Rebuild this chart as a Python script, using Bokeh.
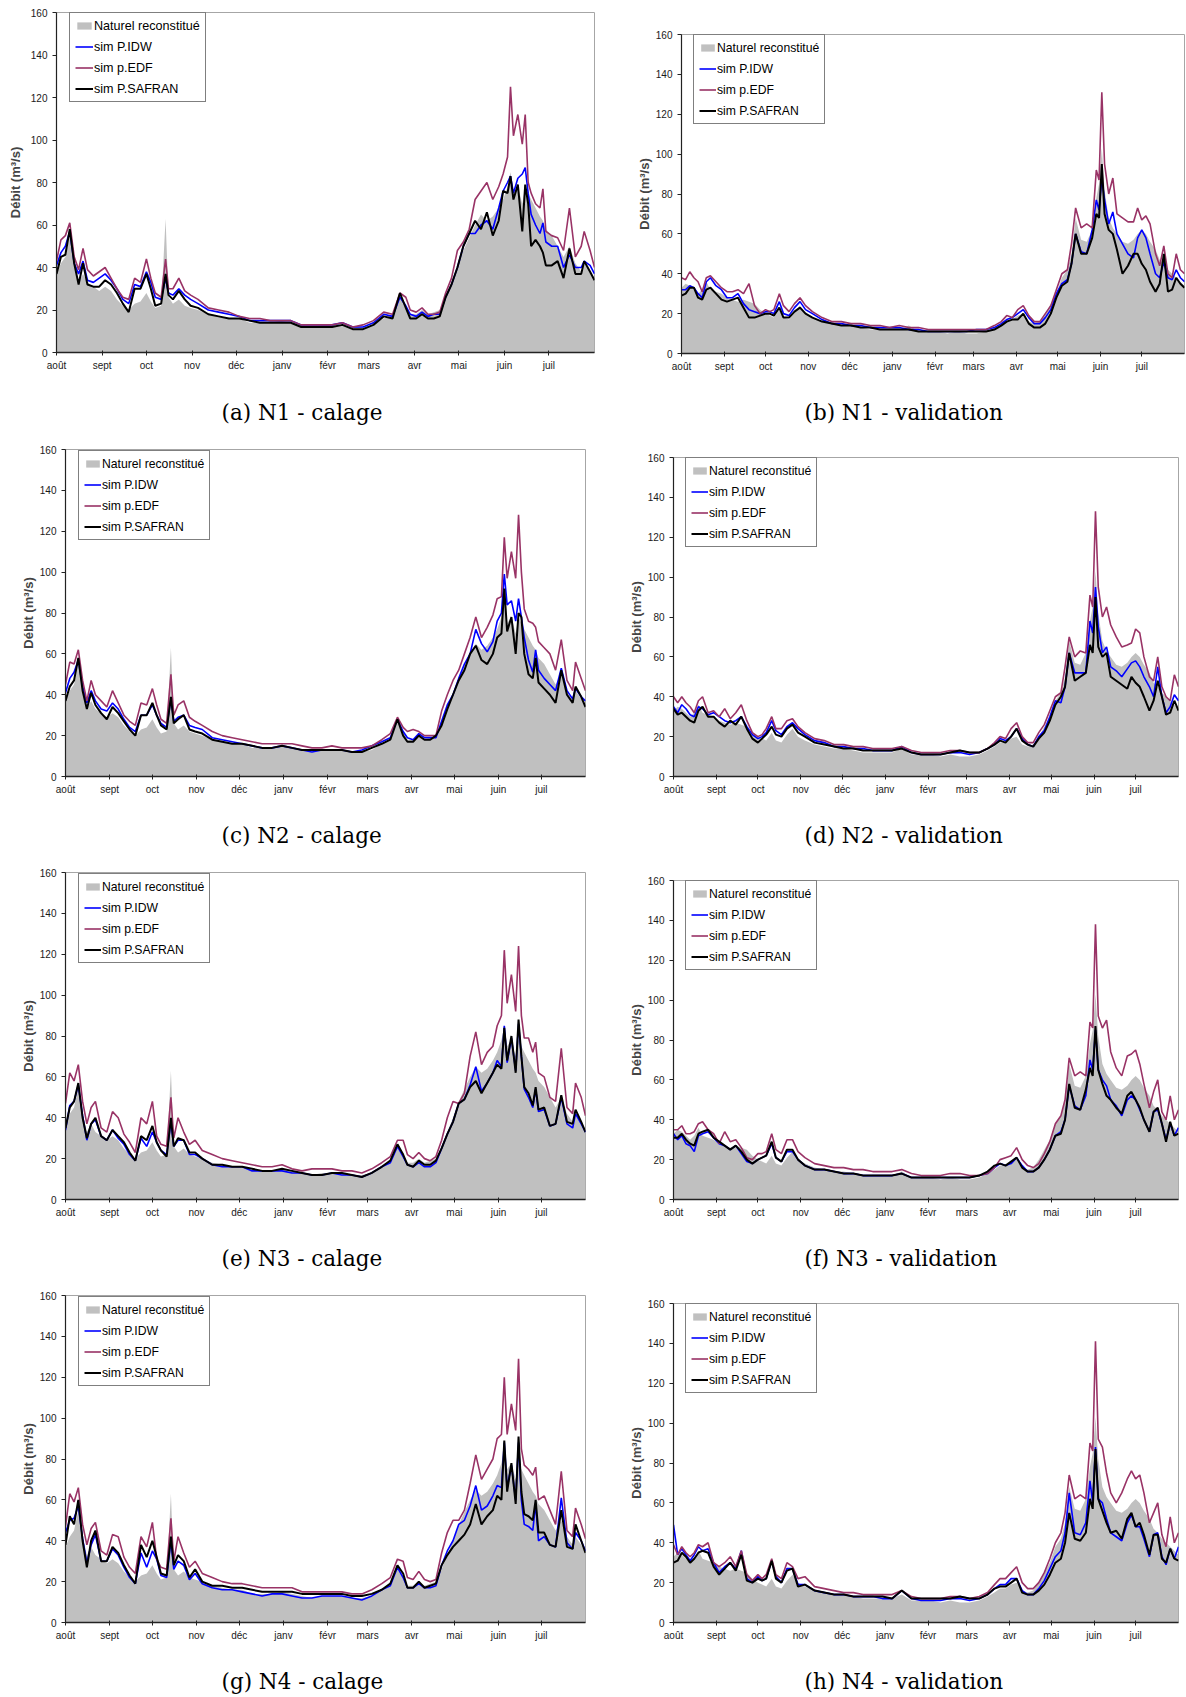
from bokeh.plotting import figure
from bokeh.models import Range1d, FixedTicker, Label, Spacer
from bokeh.layouts import row, column
from bokeh.embed import file_html
from bokeh.resources import INLINE

MONTH_TICKS = [0, 31, 61, 92, 122, 153, 184, 212, 243, 273, 304, 334]
MONTH_LABELS = ["août", "sept", "oct", "nov", "déc", "janv", "févr", "mars", "avr", "mai", "juin", "juil"]
Y_TICKS = [0, 20, 40, 60, 80, 100, 120, 140, 160]
SERIES_NAMES = ["Naturel reconstitué", "sim P.IDW", "sim p.EDF", "sim P.SAFRAN"]

# ---------------- calage period (days since 1 Aug) ----------------
C_DAYS = [0, 3, 6, 9, 12, 15, 18, 21,
          25, 29, 33, 37, 41, 45, 49, 53, 57, 61,
          64, 67, 71, 74, 76, 79, 83, 87, 91, 96,
          103, 110, 117, 124, 131, 138, 145, 152, 159, 166,
          173, 180, 187, 194, 201, 208, 215, 222, 228, 233,
          237, 240, 244, 248, 252, 256, 260, 264, 268, 272,
          276, 280, 284, 288, 292, 296, 300, 303, 306, 308,
          310, 313, 316, 318, 320, 322, 325, 328, 330, 332,
          336, 340, 344, 348, 352, 356, 358, 362, 365]

NAT_CAL = [37, 42, 45, 55, 42, 33, 37, 33,
           31, 29, 31, 29, 25, 22, 20, 23, 24, 28,
           24, 21, 22, 63, 26, 23, 25, 22, 21, 20,
           18, 17, 16, 16, 14, 14, 14, 15, 14, 13,
           12, 13, 13, 13, 12, 12, 13, 16, 18, 27,
           22, 18, 18, 20, 18, 19, 20, 26, 33, 40,
           48, 54, 60, 65, 62, 64, 68, 72, 78, 85,
           75, 78, 70, 78, 75, 72, 68, 64, 62, 58,
           55, 50, 45, 50, 42, 38, 42, 38, 34]

IDW_A = [41, 47, 50, 57, 42, 37, 43, 34,
         33, 35, 37, 34, 30, 25, 23, 32, 31, 38,
         33, 26, 25, 35, 28, 27, 30, 27, 25, 23,
         20, 19, 18, 17, 15, 15, 15, 15, 15, 13,
         13, 13, 13, 14, 12, 12, 14, 18, 17, 26,
         22, 18, 17, 19, 17, 18, 18, 26, 32, 40,
         50, 56, 56, 60, 62, 58, 68, 76, 80, 83,
         75, 82, 84, 87, 75, 65, 60, 56, 61, 52,
         50, 50, 40, 46, 40, 40, 43, 41, 37]
EDF_A = [43, 53, 55, 61, 45, 39, 49, 39,
         36, 38, 40, 35, 30, 26, 25, 35, 33, 44,
         35, 28, 26, 44, 30, 30, 35, 29, 27, 25,
         21, 20, 19, 17, 16, 16, 15, 15, 15, 13,
         13, 13, 13, 14, 12, 13, 15, 19, 18, 28,
         26, 20, 19, 21, 18, 18, 19, 28, 35, 48,
         52, 58, 72, 76, 80, 72, 78, 84, 92, 125,
         102, 112, 98, 112, 80, 75, 70, 68, 77, 57,
         55, 54, 48, 68, 45, 50, 57, 48, 40]
SAF_A = [37, 45, 46, 58, 42, 32, 42, 32,
         31, 31, 34, 32, 28, 23, 19, 30, 30, 37,
         30, 22, 23, 37, 27, 25, 29, 25, 22, 21,
         18, 17, 16, 16, 15, 14, 14, 14, 14, 12,
         12, 12, 12, 13, 11, 11, 13, 17, 16, 28,
         21, 16, 16, 18, 16, 16, 17, 26, 32, 40,
         50, 56, 62, 58, 66, 55, 62, 76, 75, 83,
         72, 79, 57, 79, 70, 50, 53, 50, 47, 41,
         41, 43, 35, 49, 37, 37, 43, 38, 34]

IDW_C = [41, 48, 51, 57, 44, 36, 42, 37,
         33, 32, 36, 33, 28, 24, 22, 30, 30, 35,
         30, 26, 24, 38, 27, 29, 30, 25, 24, 23,
         19, 18, 17, 16, 15, 14, 14, 15, 14, 13,
         12, 13, 13, 13, 12, 13, 15, 17, 19, 28,
         22, 19, 18, 21, 19, 19, 19, 27, 35, 40,
         48, 55, 60, 72, 65, 61, 66, 76, 80, 99,
         84, 86, 76, 87, 78, 68, 57, 51, 62, 52,
         48, 45, 42, 53, 42, 38, 43, 39, 37]
EDF_C = [45, 56, 55, 62, 47, 37, 47, 40,
         37, 34, 42, 36, 30, 27, 25, 36, 35, 43,
         35, 28, 26, 50, 30, 35, 37, 29, 27, 25,
         22, 20, 19, 18, 17, 16, 16, 16, 16, 15,
         14, 14, 15, 14, 14, 14, 15, 18, 21, 29,
         24, 22, 23, 22, 20, 20, 20, 32, 40, 47,
         52, 60, 68, 78, 68, 73, 79, 87, 88, 117,
         97, 110, 97, 128, 100, 82, 76, 75, 73, 66,
         63, 60, 52, 67, 47, 42, 56, 48, 42]
SAF_C = [37, 44, 47, 58, 42, 33, 41, 35,
         31, 28, 34, 31, 27, 23, 20, 30, 30, 36,
         30, 25, 23, 39, 26, 28, 30, 23, 22, 21,
         18, 17, 16, 16, 15, 14, 14, 15, 14, 13,
         13, 13, 13, 13, 12, 12, 14, 16, 18, 28,
         20, 17, 17, 20, 18, 18, 20, 25, 33, 40,
         47, 52, 60, 64, 57, 55, 60, 68, 70, 92,
         71, 78, 60, 80, 78, 60, 50, 48, 58, 46,
         43, 40, 36, 52, 40, 36, 44, 39, 34]

IDW_E = [34, 46, 48, 56, 41, 29, 37, 39,
         31, 29, 34, 30, 27, 22, 19, 30, 26, 33,
         28, 24, 22, 38, 26, 29, 29, 22, 22, 20,
         17, 16, 16, 16, 14, 14, 14, 14, 13, 13,
         12, 12, 13, 12, 12, 11, 13, 16, 18, 26,
         21, 17, 16, 18, 16, 16, 18, 25, 32, 38,
         47, 49, 56, 65, 53, 57, 62, 68, 65, 85,
         67, 79, 63, 86, 70, 54, 50, 45, 54, 43,
         44, 36, 37, 50, 37, 35, 42, 37, 33]
EDF_E = [47, 62, 58, 66, 48, 37, 45, 48,
         35, 33, 43, 40, 32, 28, 23, 40, 37, 48,
         31, 27, 26, 50, 30, 40, 33, 27, 29, 24,
         22, 20, 19, 18, 17, 16, 16, 17, 15, 14,
         15, 15, 15, 14, 14, 13, 15, 18, 21, 29,
         29, 22, 20, 23, 20, 19, 21, 29, 40, 48,
         47, 52, 70, 82, 66, 72, 75, 85, 90, 122,
         96, 110, 92, 124, 90, 79, 79, 72, 77, 62,
         60, 50, 48, 74, 45, 42, 57, 50, 41]
SAF_E = [35, 45, 48, 57, 40, 30, 37, 40,
         31, 29, 34, 31, 28, 23, 19, 31, 29, 36,
         28, 24, 21, 40, 26, 30, 29, 23, 23, 20,
         17, 17, 16, 16, 15, 14, 14, 15, 14, 13,
         12, 12, 13, 13, 12, 11, 13, 16, 19, 27,
         22, 17, 16, 19, 17, 17, 19, 25, 32, 38,
         47, 49, 55, 58, 52, 57, 62, 66, 64, 84,
         68, 80, 62, 88, 70, 55, 52, 46, 55, 44,
         45, 36, 37, 51, 38, 37, 44, 38, 33]

IDW_G = [44, 50, 51, 57, 41, 29, 38, 43,
         30, 30, 36, 33, 27, 22, 19, 34, 27, 35,
         31, 23, 22, 40, 26, 30, 28, 21, 24, 19,
         17, 16, 16, 15, 14, 13, 14, 14, 13, 12,
         12, 13, 13, 13, 12, 11, 13, 16, 18, 27,
         22, 17, 17, 19, 17, 17, 18, 28, 35, 40,
         48, 50, 57, 67, 55, 57, 62, 67, 66, 88,
         66, 77, 60, 88, 60, 48, 47, 45, 58, 40,
         42, 38, 37, 61, 39, 36, 44, 40, 35]
EDF_G = [47, 63, 59, 66, 48, 38, 46, 49,
         35, 33, 43, 42, 32, 27, 24, 42, 37, 49,
         31, 27, 26, 51, 30, 42, 34, 27, 30, 24,
         22, 20, 19, 19, 18, 17, 17, 17, 17, 15,
         15, 15, 15, 15, 14, 14, 16, 19, 22, 31,
         30, 22, 21, 25, 21, 20, 21, 34, 44, 50,
         50, 55, 68, 82, 70, 75, 80, 90, 92, 120,
         92, 107, 94, 129, 85, 77, 75, 72, 76, 60,
         62, 55, 48, 74, 45, 42, 56, 48, 41]
SAF_G = [38, 52, 48, 60, 40, 27, 40, 45,
         30, 30, 37, 34, 28, 23, 19, 38, 32, 40,
         32, 24, 23, 42, 28, 33, 30, 22, 26, 20,
         18, 18, 17, 17, 16, 15, 15, 15, 15, 14,
         14, 14, 14, 14, 13, 13, 14, 16, 19, 28,
         24, 17, 17, 20, 17, 18, 19, 28, 33, 37,
         40, 43, 48, 58, 48, 52, 55, 62, 60, 89,
         64, 78, 58, 91, 64, 53, 52, 50, 60, 44,
         44, 38, 37, 55, 37, 36, 48, 40, 34]

# ---------------- validation period ----------------
V_DAYS = [0, 3, 6, 9, 12, 15, 18, 21,
          25, 29, 33, 37, 41, 45, 49, 53, 57, 61,
          64, 67, 71, 74, 78, 82, 86, 90, 95, 102,
          109, 116, 123, 130, 137, 144, 151, 158, 165, 172,
          179, 186, 193, 200, 207, 214, 221, 227, 232, 236,
          240, 244, 248, 252, 256, 260, 264, 268, 272, 276,
          280, 283, 286, 290, 294, 298, 301, 303, 305, 307,
          310, 313, 316, 320, 324, 328, 331, 334, 337, 340,
          344, 347, 350, 353, 356, 359, 362, 365]

NAT_VAL = [33, 35, 34, 32, 30, 32, 36, 32,
           31, 30, 28, 27, 26, 27, 26, 25, 22, 20,
           19, 18, 22, 18, 17, 21, 24, 20, 18, 16,
           15, 14, 14, 13, 12, 12, 12, 12, 14, 11,
           11, 11, 10, 11, 10, 10, 11, 13, 15, 17,
           17, 19, 20, 16, 15, 16, 20, 25, 30, 38,
           42, 50, 68, 57, 56, 62, 78, 85, 103, 82,
           68, 63, 60, 56, 55, 57, 60, 62, 60, 56,
           52, 47, 45, 42, 40, 38, 36, 34]

IDW_B = [32, 32, 34, 33, 30, 28, 36, 38,
         34, 32, 28, 28, 30, 25, 22, 21, 20, 21,
         21, 20, 26, 20, 19, 23, 26, 22, 20, 17,
         15, 15, 14, 14, 13, 13, 13, 13, 12, 12,
         11, 11, 11, 11, 11, 12, 12, 13, 15, 17,
         18, 20, 22, 18, 15, 15, 18, 22, 30, 35,
         37, 45, 60, 51, 50, 62, 77, 72, 88, 77,
         65, 71, 60, 55, 50, 48, 58, 62, 58, 50,
         40, 38, 46, 38, 37, 42, 38, 36]
EDF_B = [38, 37, 41, 38, 36, 31, 38, 39,
         36, 33, 31, 31, 32, 30, 35, 24, 20, 22,
         21, 22, 30, 24, 21, 25, 28, 24, 21, 18,
         16, 16, 15, 15, 14, 14, 13, 14, 13, 13,
         12, 12, 12, 12, 12, 12, 12, 14, 16, 19,
         18, 22, 24, 19, 16, 16, 20, 24, 32, 40,
         42, 55, 73, 63, 65, 63, 92, 87, 131, 95,
         80, 88, 70, 68, 66, 66, 73, 67, 69, 65,
         50, 44, 54, 40, 38, 50, 42, 40]
SAF_B = [29, 30, 33, 33, 28, 27, 32, 33,
         30, 27, 26, 27, 28, 23, 18, 18, 19, 20,
         20, 19, 23, 18, 18, 21, 23, 20, 18, 16,
         15, 14, 14, 13, 13, 12, 12, 12, 12, 11,
         11, 11, 11, 11, 11, 11, 11, 12, 14, 16,
         17, 17, 20, 15, 13, 13, 15, 20, 28, 34,
         36, 45, 60, 50, 50, 58, 70, 68, 95, 70,
         62, 60, 52, 40, 44, 50, 50, 45, 42, 36,
         31, 35, 50, 31, 32, 38, 35, 33]

IDW_D = [35, 32, 36, 34, 31, 30, 35, 34,
         31, 32, 30, 28, 27, 28, 30, 25, 21, 19,
         20, 22, 28, 23, 21, 25, 27, 24, 21, 18,
         17, 15, 15, 14, 14, 13, 13, 13, 15, 12,
         11, 11, 11, 12, 12, 11, 12, 14, 16, 19,
         18, 20, 24, 19, 16, 15, 20, 23, 30, 38,
         37, 45, 62, 52, 52, 52, 78, 72, 95, 75,
         62, 65, 55, 53, 50, 54, 57, 58, 55, 50,
         45, 40, 55, 40, 32, 35, 41, 38]
EDF_D = [40, 37, 40, 37, 35, 32, 38, 40,
         32, 33, 30, 34, 29, 32, 36, 28, 22, 20,
         21, 24, 30, 24, 24, 28, 29, 25, 22, 19,
         18, 16, 16, 15, 15, 14, 14, 14, 15, 13,
         12, 12, 12, 13, 13, 12, 12, 14, 17, 20,
         19, 24, 27, 20, 17, 17, 22, 26, 33, 40,
         42, 55, 70, 60, 63, 62, 91, 85, 133, 95,
         80, 85, 76, 70, 65, 66, 67, 74, 72, 60,
         50, 48, 60, 45, 40, 38, 51, 45]
SAF_D = [34, 31, 32, 30, 28, 27, 33, 35,
         30, 30, 27, 25, 28, 26, 30, 24, 19, 17,
         19, 21, 25, 21, 20, 24, 26, 22, 20, 17,
         16, 15, 14, 14, 13, 13, 13, 13, 14, 12,
         11, 11, 11, 12, 13, 12, 12, 14, 16, 18,
         17, 20, 24, 18, 16, 15, 19, 22, 28, 36,
         40, 45, 62, 48, 50, 52, 66, 62, 90, 65,
         60, 62, 50, 48, 46, 44, 50, 47, 45, 40,
         33, 38, 48, 40, 31, 32, 38, 33]

IDW_F = [33, 30, 32, 28, 27, 24, 32, 33,
         34, 31, 28, 27, 25, 27, 23, 19, 18, 20,
         21, 22, 28, 21, 19, 24, 24, 20, 17, 15,
         15, 14, 13, 13, 12, 12, 12, 12, 13, 11,
         11, 11, 11, 11, 11, 11, 12, 13, 16, 18,
         17, 18, 21, 17, 14, 14, 16, 20, 25, 32,
         34, 40, 57, 47, 45, 52, 70, 65, 85, 65,
         60, 57, 50, 47, 42, 50, 52, 50, 45, 40,
         34, 44, 45, 38, 30, 38, 32, 36]
EDF_F = [35, 35, 37, 33, 33, 34, 38, 39,
         35, 33, 28, 34, 29, 30, 26, 21, 20, 23,
         23, 24, 33, 25, 23, 30, 30, 24, 21, 18,
         17, 16, 16, 15, 15, 14, 14, 14, 15, 13,
         12, 12, 12, 13, 13, 12, 12, 13, 16, 20,
         21, 22, 26, 20, 17, 16, 18, 23, 29, 38,
         42, 50, 71, 62, 64, 62, 89, 86, 138, 92,
         86, 90, 74, 66, 62, 72, 73, 75, 68, 58,
         46, 54, 60, 44, 40, 52, 40, 45]
SAF_F = [31, 31, 33, 30, 28, 27, 33, 34,
         35, 31, 29, 27, 25, 27, 24, 20, 18, 20,
         21, 22, 29, 21, 19, 25, 25, 20, 17, 15,
         15, 14, 13, 13, 12, 12, 12, 12, 13, 11,
         11, 11, 11, 11, 11, 11, 12, 14, 17, 18,
         17, 19, 21, 16, 14, 14, 16, 20, 25, 32,
         33, 40, 58, 46, 45, 55, 66, 62, 87, 65,
         58, 52, 50, 46, 43, 52, 54, 50, 46, 40,
         34, 44, 46, 38, 29, 39, 32, 33]

IDW_H = [49, 34, 37, 34, 31, 34, 38, 36,
         37, 30, 25, 28, 30, 27, 36, 22, 20, 23,
         21, 22, 31, 23, 20, 27, 27, 19, 19, 16,
         15, 14, 14, 13, 13, 13, 12, 12, 16, 12,
         11, 11, 11, 12, 12, 11, 12, 14, 17, 19,
         19, 22, 22, 16, 14, 14, 17, 21, 27, 33,
         36, 45, 65, 45, 44, 50, 71, 60, 88, 62,
         60, 52, 45, 43, 41, 50, 54, 48, 48, 42,
         33, 44, 45, 33, 29, 37, 32, 38]
EDF_H = [39, 34, 38, 35, 33, 35, 39, 38,
         40, 30, 28, 30, 33, 28, 36, 24, 21, 24,
         22, 24, 32, 24, 22, 30, 28, 22, 23, 18,
         17, 16, 15, 15, 14, 14, 14, 14, 16, 13,
         12, 12, 12, 13, 13, 12, 13, 15, 19, 22,
         22, 25, 28, 20, 17, 17, 20, 25, 32, 40,
         45, 55, 74, 62, 64, 62, 90, 86, 141, 92,
         88, 75, 65, 60, 65, 72, 76, 72, 74, 65,
         50, 55, 60, 44, 38, 53, 40, 45]
SAF_H = [30, 31, 35, 33, 30, 32, 35, 36,
         35, 28, 24, 27, 30, 26, 34, 21, 20, 22,
         21, 22, 31, 22, 20, 26, 27, 18, 19, 16,
         15, 14, 14, 13, 13, 13, 13, 12, 16, 12,
         12, 12, 12, 12, 13, 12, 12, 14, 17, 18,
         18, 20, 22, 15, 14, 14, 16, 19, 24, 30,
         32, 40, 55, 42, 41, 45, 62, 57, 87, 62,
         56, 50, 45, 46, 42, 52, 55, 48, 50, 44,
         34, 44, 44, 32, 30, 37, 32, 31]

CAPTIONS = {
    "a": "(a) N1 - calage", "b": "(b) N1 - validation",
    "c": "(c) N2 - calage", "d": "(d) N2 - validation",
    "e": "(e) N3 - calage", "f": "(f) N3 - validation",
    "g": "(g) N4 - calage", "h": "(h) N4 - validation",
}

DATA = {
    "a": (C_DAYS, NAT_CAL, IDW_A, EDF_A, SAF_A),
    "b": (V_DAYS, NAT_VAL, IDW_B, EDF_B, SAF_B),
    "c": (C_DAYS, NAT_CAL, IDW_C, EDF_C, SAF_C),
    "d": (V_DAYS, NAT_VAL, IDW_D, EDF_D, SAF_D),
    "e": (C_DAYS, NAT_CAL, IDW_E, EDF_E, SAF_E),
    "f": (V_DAYS, NAT_VAL, IDW_F, EDF_F, SAF_F),
    "g": (C_DAYS, NAT_CAL, IDW_G, EDF_G, SAF_G),
    "h": (V_DAYS, NAT_VAL, IDW_H, EDF_H, SAF_H),
}

# ---------------- layout (pixels) ----------------
# identical borders on every figure (Bokeh aligns them); placement via spacers
BL, BR, BT, BB = 56, 2, 4, 24
ROW_PITCH = 423
CAP_OFF = 412                       # caption centre below row origin
BLOCK_STARTS = [0, 433, 856, 1279]  # page y where each layout block starts
BLOCK_HS = [433, 423, 423, 416]
# frame: left/right page x, top below row origin, height; caption x offset; y-label standoff
FRAMES = {
    "a": dict(l=56, r=594, t=12, h=340, cap=165, ylab=5, leg_x=13, leg_top=2, fs=12.6, gw=18),
    "b": dict(l=681, r=1184, t=34, h=319, cap=123, ylab=1, leg_x=12, leg_top=2, fs=12.2, gw=17),
    "c": dict(l=65, r=585, t=26, h=327, cap=156, ylab=1, leg_x=13, leg_top=3, fs=12.2, gw=17),
    "d": dict(l=673, r=1178, t=34, h=319, cap=131, ylab=1, leg_x=12, leg_top=2, fs=12.2, gw=17),
}
FRAMES["e"] = FRAMES["c"]
FRAMES["f"] = FRAMES["d"]
FRAMES["g"] = FRAMES["c"]
FRAMES["h"] = FRAMES["d"]

SANS = "Liberation Sans"
LEG_PAD, LEG_LH, LEG_SP = 5, 15, 6
LEG_H = 2 * LEG_PAD + 4 * LEG_LH + 3 * LEG_SP


def make_panel(key):
    days, nat, idw, edf, saf = DATA[key]
    for arr in (nat, idw, edf, saf):
        assert len(arr) == len(days), (key, len(arr), len(days))
    f = FRAMES[key]
    fw = f["r"] - f["l"]
    fh = f["h"]
    p = figure(width=BL + fw + BR, height=BT + fh + BB,
               x_range=Range1d(0, 365), y_range=Range1d(0, 160),
               output_backend="svg", toolbar_location=None,
               min_border_left=BL, min_border_right=BR,
               min_border_top=BT, min_border_bottom=BB,
               outline_line_color="#a6a6a6", outline_line_width=1,
               background_fill_color="white", border_fill_color="white")
    p.xgrid.visible = False
    p.ygrid.visible = False

    p.varea(x=days, y1=0, y2=nat, fill_color="#c0c0c0", legend_label=SERIES_NAMES[0])
    p.line(days, idw, line_color="#0000ff", line_width=1.6, legend_label=SERIES_NAMES[1])
    p.line(days, edf, line_color="#993366", line_width=1.6, legend_label=SERIES_NAMES[2])
    p.line(days, saf, line_color="#000000", line_width=2.0, legend_label=SERIES_NAMES[3])

    xa = p.xaxis[0]
    xa.ticker = FixedTicker(ticks=MONTH_TICKS)
    xa.major_label_overrides = {t: l for t, l in zip(MONTH_TICKS, MONTH_LABELS)}
    xa.minor_tick_line_color = None
    xa.major_tick_in = 2
    xa.major_tick_out = 3
    xa.major_label_standoff = 4
    xa.axis_line_color = "#222222"
    xa.axis_line_width = 1.3
    xa.major_tick_line_color = "#222222"
    xa.major_label_text_font = SANS
    xa.major_label_text_font_size = "10px"
    xa.major_label_text_color = "#1a1a1a"

    ya = p.yaxis[0]
    ya.ticker = FixedTicker(ticks=Y_TICKS)
    ya.minor_tick_line_color = None
    ya.major_tick_in = 0
    ya.major_tick_out = 4
    ya.major_label_standoff = 5
    ya.axis_line_color = "#222222"
    ya.axis_line_width = 1.2
    ya.major_tick_line_color = "#222222"
    ya.major_label_text_font = SANS
    ya.major_label_text_font_size = "10px"
    ya.major_label_text_color = "#1a1a1a"
    ya.axis_label = "Débit (m³/s)"
    ya.axis_label_text_font = SANS
    ya.axis_label_text_font_style = "bold"
    ya.axis_label_text_font_size = "13px"
    ya.axis_label_standoff = f["ylab"]

    lg = p.legend[0]
    lg.location = (f["leg_x"], fh - f["leg_top"] - LEG_H)
    lg.padding = LEG_PAD
    lg.spacing = LEG_SP
    lg.margin = 0
    lg.label_height = LEG_LH
    lg.glyph_height = 9
    lg.glyph_width = f["gw"]
    lg.label_standoff = 1
    lg.label_text_font = SANS
    lg.label_text_font_size = "%gpx" % f["fs"]
    lg.label_text_color = "black"
    lg.border_line_color = "black"
    lg.border_line_width = 1.3
    lg.background_fill_color = "white"
    lg.background_fill_alpha = 1.0
    return p


def make_caption(key, height, y_from_top):
    f = FRAMES[key]
    fw = f["r"] - f["l"]
    c = figure(width=BL + fw + BR, height=height,
               x_range=Range1d(0, 1), y_range=Range1d(0, 1),
               output_backend="svg", toolbar_location=None,
               x_axis_type=None, y_axis_type=None,
               min_border_left=BL, min_border_right=BR,
               min_border_top=0, min_border_bottom=0,
               outline_line_color=None,
               background_fill_color="white", border_fill_color="white")
    c.add_layout(Label(x=f["cap"], y=height - y_from_top, x_units="screen", y_units="screen",
                       text=CAPTIONS[key], text_font="DejaVu Serif", text_font_size="21.5px",
                       text_align="left", text_baseline="middle", text_color="black"))
    return c


def block(idx, kl, kr):
    start = BLOCK_STARTS[idx]
    bh = BLOCK_HS[idx]
    origin = ROW_PITCH * idx

    def col(key):
        f = FRAMES[key]
        p = make_panel(key)
        items = []
        top = origin + f["t"] - BT - start
        if top > 0:
            items.append(Spacer(width=p.width, height=top))
        items.append(p)
        used = top + p.height
        cap_h = bh - used
        items.append(make_caption(key, cap_h, origin + CAP_OFF - start - used))
        return column(*items), p.width

    fl, fr = FRAMES[kl], FRAMES[kr]
    cl, wl = col(kl)
    cr, wr = col(kr)
    xl = fl["l"] - BL
    xr = fr["l"] - BL
    gap = xr - (xl + wl)
    items = []
    if xl > 0:
        items.append(Spacer(width=xl, height=bh))
    items.append(cl)
    items.append(Spacer(width=gap, height=bh))
    items.append(cr)
    return row(*items)


layout = column(block(0, "a", "b"), block(1, "c", "d"), block(2, "e", "f"), block(3, "g", "h"))

open("out.html", "w").write(file_html(layout, INLINE))
